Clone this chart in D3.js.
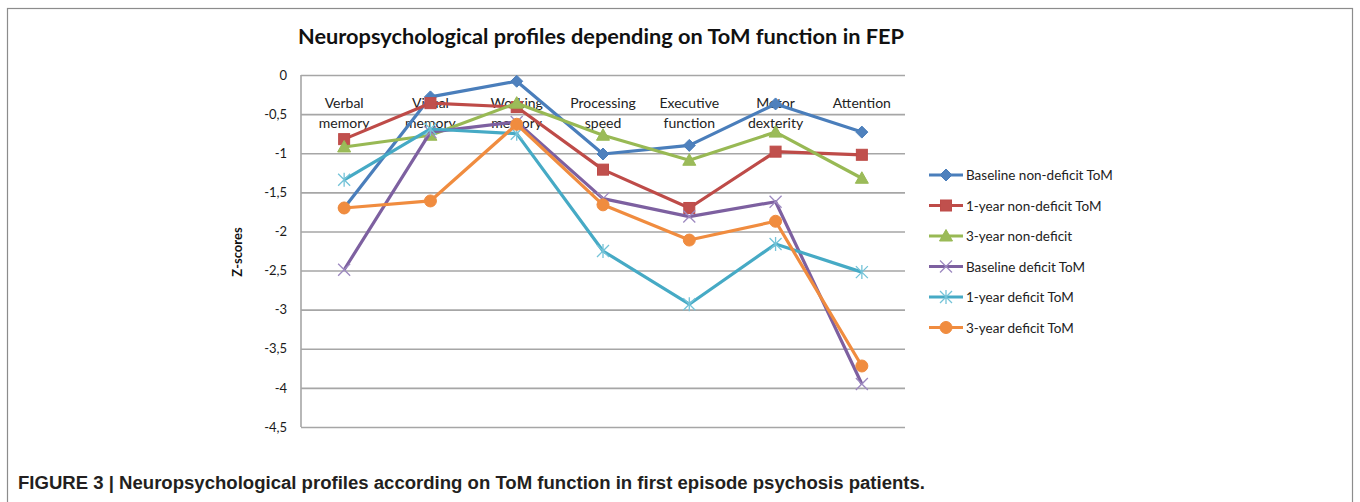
<!DOCTYPE html>
<html>
<head>
<meta charset="utf-8">
<script src="https://cdn.jsdelivr.net/npm/d3@7"></script>
<style>
  body { margin: 0; background: #fff; }
  text { font-family: Lato, "Open Sans", sans-serif; }
</style>
</head>
<body>
<div id="chart"></div>
<script>
// chart data
const categories = [
  ['Verbal', 'memory'], ['Visual', 'memory'], ['Working', 'memory'],
  ['Processing', 'speed'], ['Executive', 'function'], ['Motor', 'dexterity'], ['Attention']
];
const seriesNames = [
  'Baseline non-deficit ToM', '1-year non-deficit ToM', '3-year non-deficit',
  'Baseline deficit ToM', '1-year deficit ToM', '3-year deficit ToM'
];
const baselineNonDeficit = [-1.70, -0.28, -0.08, -1.01, -0.90, -0.37, -0.73];
const year1NonDeficit    = [-0.82, -0.36, -0.41, -1.21, -1.70, -0.98, -1.02];
const year3NonDeficit    = [-0.92, -0.77, -0.36, -0.77, -1.09, -0.73, -1.32];
const baselineDeficit    = [-2.49, -0.73, -0.60, -1.58, -1.81, -1.62, -3.95];
const year1Deficit       = [-1.34, -0.69, -0.75, -2.25, -2.93, -2.16, -2.52];
const year3Deficit       = [-1.70, -1.61, -0.63, -1.66, -2.11, -1.87, -3.72];
const yTicks = [0, -0.5, -1, -1.5, -2, -2.5, -3, -3.5, -4, -4.5];

const allSeries = [baselineNonDeficit, year1NonDeficit, year3NonDeficit,
                   baselineDeficit, year1Deficit, year3Deficit];
const colors = ['#4a7ebb', '#be4b48', '#98b954', '#7d60a0', '#46aac5', '#f08c3f'];
const markerFill = ['#4f81bd', '#c0504d', '#9bbb59', '#8064a2', '#4bacc6', '#f08c3f'];
const markerType = ['diamond', 'square', 'triangle', 'x', 'star', 'circle'];

const width = 1360, height = 502;
const plot = { left: 301, right: 905, top: 75, bottom: 427 };

const svg = d3.select('#chart').append('svg')
    .attr('width', width)
    .attr('height', height);

// outer frame
svg.append('rect')
    .attr('x', 7.5).attr('y', 8.5)
    .attr('width', 1345).attr('height', 520)
    .attr('fill', 'none')
    .attr('stroke', '#8c8c8c')
    .attr('stroke-width', 1.2);

const x = d3.scalePoint()
    .domain(d3.range(categories.length))
    .range([plot.left, plot.right])
    .padding(0.5);

const y = d3.scaleLinear()
    .domain([-4.5, 0])
    .range([plot.bottom, plot.top]);

// gridlines + tick labels
const yAxis = d3.axisLeft(y)
    .tickValues(yTicks)
    .tickSize(-(plot.right - plot.left))
    .tickPadding(14)
    .tickFormat(d => d3.format('')(d).replace('.', ',').replace('−', '-'));

const gy = svg.append('g')
    .attr('transform', `translate(${plot.left},0)`)
    .call(yAxis);
gy.select('.domain').remove();
gy.selectAll('.tick line').attr('stroke', '#a6a6a6').attr('stroke-width', 1.6);
gy.selectAll('.tick text')
    .attr('fill', '#1a1a1a')
    .style('font-size', '13px');

// left axis line
svg.append('line')
    .attr('x1', plot.left).attr('x2', plot.left)
    .attr('y1', plot.top).attr('y2', plot.bottom)
    .attr('stroke', '#a6a6a6').attr('stroke-width', 1.6);

// y-axis title
svg.append('text')
    .attr('transform', 'translate(242,252) rotate(-90)')
    .attr('text-anchor', 'middle')
    .style('font-size', '13px')
    .style('font-weight', 'bold')
    .attr('fill', '#111')
    .text('Z-scores');

// title
svg.append('text')
    .attr('x', 601).attr('y', 44)
    .attr('text-anchor', 'middle')
    .style('font-size', '20px')
    .style('font-weight', 'bold')
    .attr('fill', '#111')
    .attr('textLength', 606)
    .attr('lengthAdjust', 'spacingAndGlyphs')
    .text('Neuropsychological profiles depending on ToM function in FEP');

// category labels (they sit in the plot, at the zero axis)
const catG = svg.append('g');
categories.forEach((lines, i) => {
  lines.forEach((t, j) => {
    catG.append('text')
        .attr('x', x(i))
        .attr('y', 108 + j * 20)
        .attr('text-anchor', 'middle')
        .style('font-size', '14px')
        .attr('fill', '#222')
        .text(t);
  });
});

const line = d3.line()
    .x((d, i) => x(i))
    .y(d => y(d));

function drawMarker(g, type, cx, cy, k) {
  if (type === 'diamond') {
    g.append('path')
        .attr('d', `M${cx},${cy - 6}L${cx + 6},${cy}L${cx},${cy + 6}L${cx - 6},${cy}Z`)
        .attr('fill', markerFill[k]).attr('stroke', colors[k]);
  } else if (type === 'square') {
    g.append('rect')
        .attr('x', cx - 5.5).attr('y', cy - 5.5)
        .attr('width', 11).attr('height', 11)
        .attr('fill', markerFill[k]).attr('stroke', colors[k]);
  } else if (type === 'triangle') {
    g.append('path')
        .attr('d', `M${cx},${cy - 6.5}L${cx + 6.5},${cy + 5}L${cx - 6.5},${cy + 5}Z`)
        .attr('fill', markerFill[k]).attr('stroke', colors[k]);
  } else if (type === 'x') {
    g.append('path')
        .attr('d', `M${cx - 6},${cy - 6}L${cx + 6},${cy + 6}M${cx - 6},${cy + 6}L${cx + 6},${cy - 6}`)
        .attr('stroke', '#9d89c0').attr('stroke-width', 1.3).attr('fill', 'none');
  } else if (type === 'star') {
    g.append('path')
        .attr('d', `M${cx - 6},${cy - 6}L${cx + 6},${cy + 6}M${cx - 6},${cy + 6}L${cx + 6},${cy - 6}M${cx},${cy - 7}L${cx},${cy + 7}`)
        .attr('stroke', '#74c3d8').attr('stroke-width', 1.3).attr('fill', 'none');
  } else {
    g.append('circle')
        .attr('cx', cx).attr('cy', cy).attr('r', 6)
        .attr('fill', markerFill[k]).attr('stroke', colors[k]);
  }
}

// series
allSeries.forEach((vals, k) => {
  const g = svg.append('g');
  g.append('path')
      .datum(vals)
      .attr('d', line)
      .attr('fill', 'none')
      .attr('stroke', colors[k])
      .attr('stroke-width', 3.2)
      .attr('stroke-linejoin', 'round');
  vals.forEach((v, i) => drawMarker(g, markerType[k], x(i), y(v), k));
});

// legend
const legend = svg.append('g').attr('transform', 'translate(929,175)');
seriesNames.forEach((name, k) => {
  const lg = legend.append('g').attr('transform', `translate(0,${k * 30.5})`);
  lg.append('line')
      .attr('x1', 0).attr('x2', 34)
      .attr('y1', 0).attr('y2', 0)
      .attr('stroke', colors[k]).attr('stroke-width', 3);
  drawMarker(lg, markerType[k], 17, 0, k);
  lg.append('text')
      .attr('x', 37).attr('y', 5)
      .style('font-size', '13.5px')
      .attr('fill', '#222')
      .text(name);
});

// figure caption
svg.append('text')
    .attr('x', 18).attr('y', 489)
    .style('font-family', '"Liberation Sans Narrow", "Arial Narrow", sans-serif')
    .style('font-size', '18px')
    .style('font-weight', 'bold')
    .attr('fill', '#231f20')
    .attr('textLength', 907)
    .attr('lengthAdjust', 'spacingAndGlyphs')
    .text('FIGURE 3 | Neuropsychological profiles according on ToM function in first episode psychosis patients.');
</script>
</body>
</html>
